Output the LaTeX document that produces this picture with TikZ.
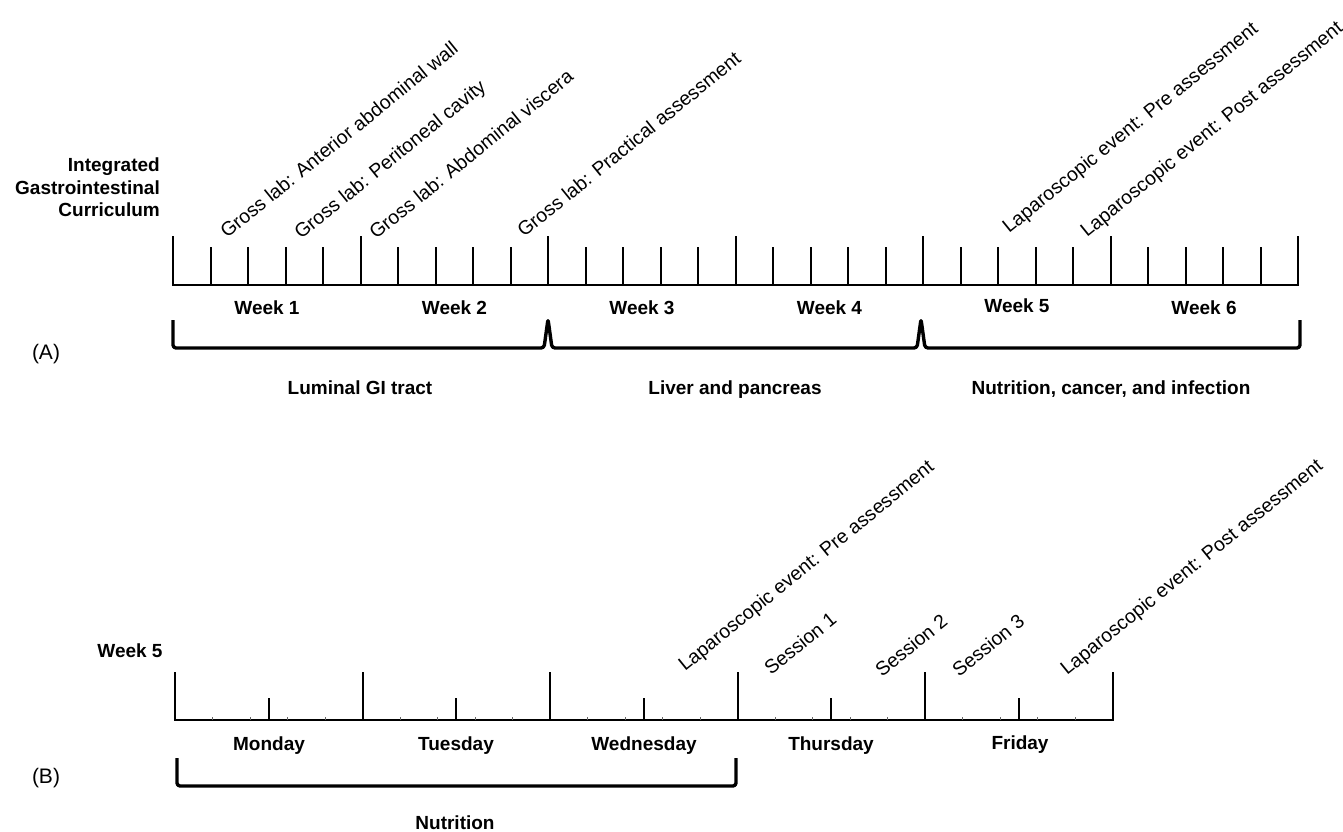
\documentclass[tikz,border=0pt]{standalone}
\usepackage{fontspec}
\setmainfont{Liberation Sans}
\begin{document}
\begin{tikzpicture}[x=1bp,y=-1bp,
  bold/.style={font=\fontsize{19bp}{22.5bp}\selectfont\bfseries, inner sep=0pt, align=center, anchor=base},
  slant/.style={font=\fontsize{19.5bp}{23bp}\selectfont, inner sep=0pt, anchor=base west, rotate=39},
  panel/.style={font=\fontsize{21bp}{24bp}\selectfont, inner sep=0pt},
  axis/.style={line width=2.6bp, line cap=rect},
  tick/.style={line width=2bp},
  tiny/.style={line width=0.8bp, black!60},
  brace/.style={line width=3.4bp, line join=round, rounded corners=3bp}]
\useasboundingbox (0,0) rectangle (1343,831);

% ---------------- (A) ----------------
\node[bold, align=right, anchor=north east] (title) at (160,158) {Integrated\\Gastrointestinal\\Curriculum};

\coordinate (a0) at (173,285);
\coordinate (a1) at (1298,285);
\draw[axis] (a0) -- (a1);
\foreach \i in {0,...,30} {
  \pgfmathsetmacro\xx{173+37.5*\i}
  \pgfmathsetmacro\yy{mod(\i,5)==0 ? 236 : 247}
  \draw[tick] (\xx,285) -- (\xx,\yy);
}

\node[bold] (w1) at (267,314) {Week 1};
\node[bold] (w2) at (454.5,314) {Week 2};
\node[bold] (w3) at (642,314) {Week 3};
\node[bold] (w4) at (829.5,314) {Week 4};
\node[bold] (w5) at (1017,312) {Week 5};
\node[bold] (w6) at (1204,314) {Week 6};

\draw[brace] (173,320) -- (173,348) -- (544,348) -- (548,319) -- (552,348)
  -- (917,348) -- (921,319) -- (925,348) -- (1300,348) -- (1300,320);

\node[panel] (A) at (46,354) {(A)};

\node[bold] (s1) at (360,394) {Luminal GI tract};
\node[bold] (s2) at (735,394) {Liver and pancreas};
\node[bold] (s3) at (1111,394) {Nutrition, cancer, and infection};

\node[slant] (g1) at (227,239) {Gross lab: Anterior abdominal wall};
\node[slant] (g2) at (301,240) {Gross lab: Peritoneal cavity};
\node[slant] (g3) at (376,240) {Gross lab: Abdominal viscera};
\node[slant] (g4) at (524,238) {Gross lab: Practical assessment};
\node[slant] (l1) at (1009,234) {Laparoscopic event: Pre assessment};
\node[slant] (l2) at (1087,238) {Laparoscopic event: Post assessment};

% ---------------- (B) ----------------
\node[bold] (wk5) at (130,657) {Week 5};

\coordinate (b0) at (175,720);
\coordinate (b1) at (1112.5,720);
\draw[axis] (b0) -- (b1);
\foreach \i in {0,...,25} {
  \pgfmathsetmacro\xx{175+37.5*\i}
  \pgfmathparse{mod(\i,5)==0 ? 1 : 0}
  \ifnum\pgfmathresult=1
    \draw[tick] (\xx,720) -- (\xx,672);
  \else
    \draw[tiny] (\xx,720) -- (\xx,717);
  \fi
}
\foreach \i in {0,...,4} {
  \pgfmathsetmacro\xx{175+93.75+187.5*\i}
  \draw[tick] (\xx,720) -- (\xx,698);
}

\node[bold] (mon) at (269,750) {Monday};
\node[bold] (tue) at (456,750) {Tuesday};
\node[bold] (wed) at (644,750) {Wednesday};
\node[bold] (thu) at (831,750) {Thursday};
\node[bold] (fri) at (1020,749) {Friday};

\draw[brace] (177,758) -- (177,786) -- (736,786) -- (736,758);

\node[panel] (B) at (46,778) {(B)};
\node[bold] (nut) at (455,829) {Nutrition};

\node[slant] (p1) at (685,672) {Laparoscopic event: Pre assessment};
\node[slant] (se1) at (771,676) {Session 1};
\node[slant] (se2) at (882,678) {Session 2};
\node[slant] (se3) at (959,678) {Session 3};
\node[slant] (p2) at (1067,676) {Laparoscopic event: Post assessment};
\end{tikzpicture}
\end{document}
